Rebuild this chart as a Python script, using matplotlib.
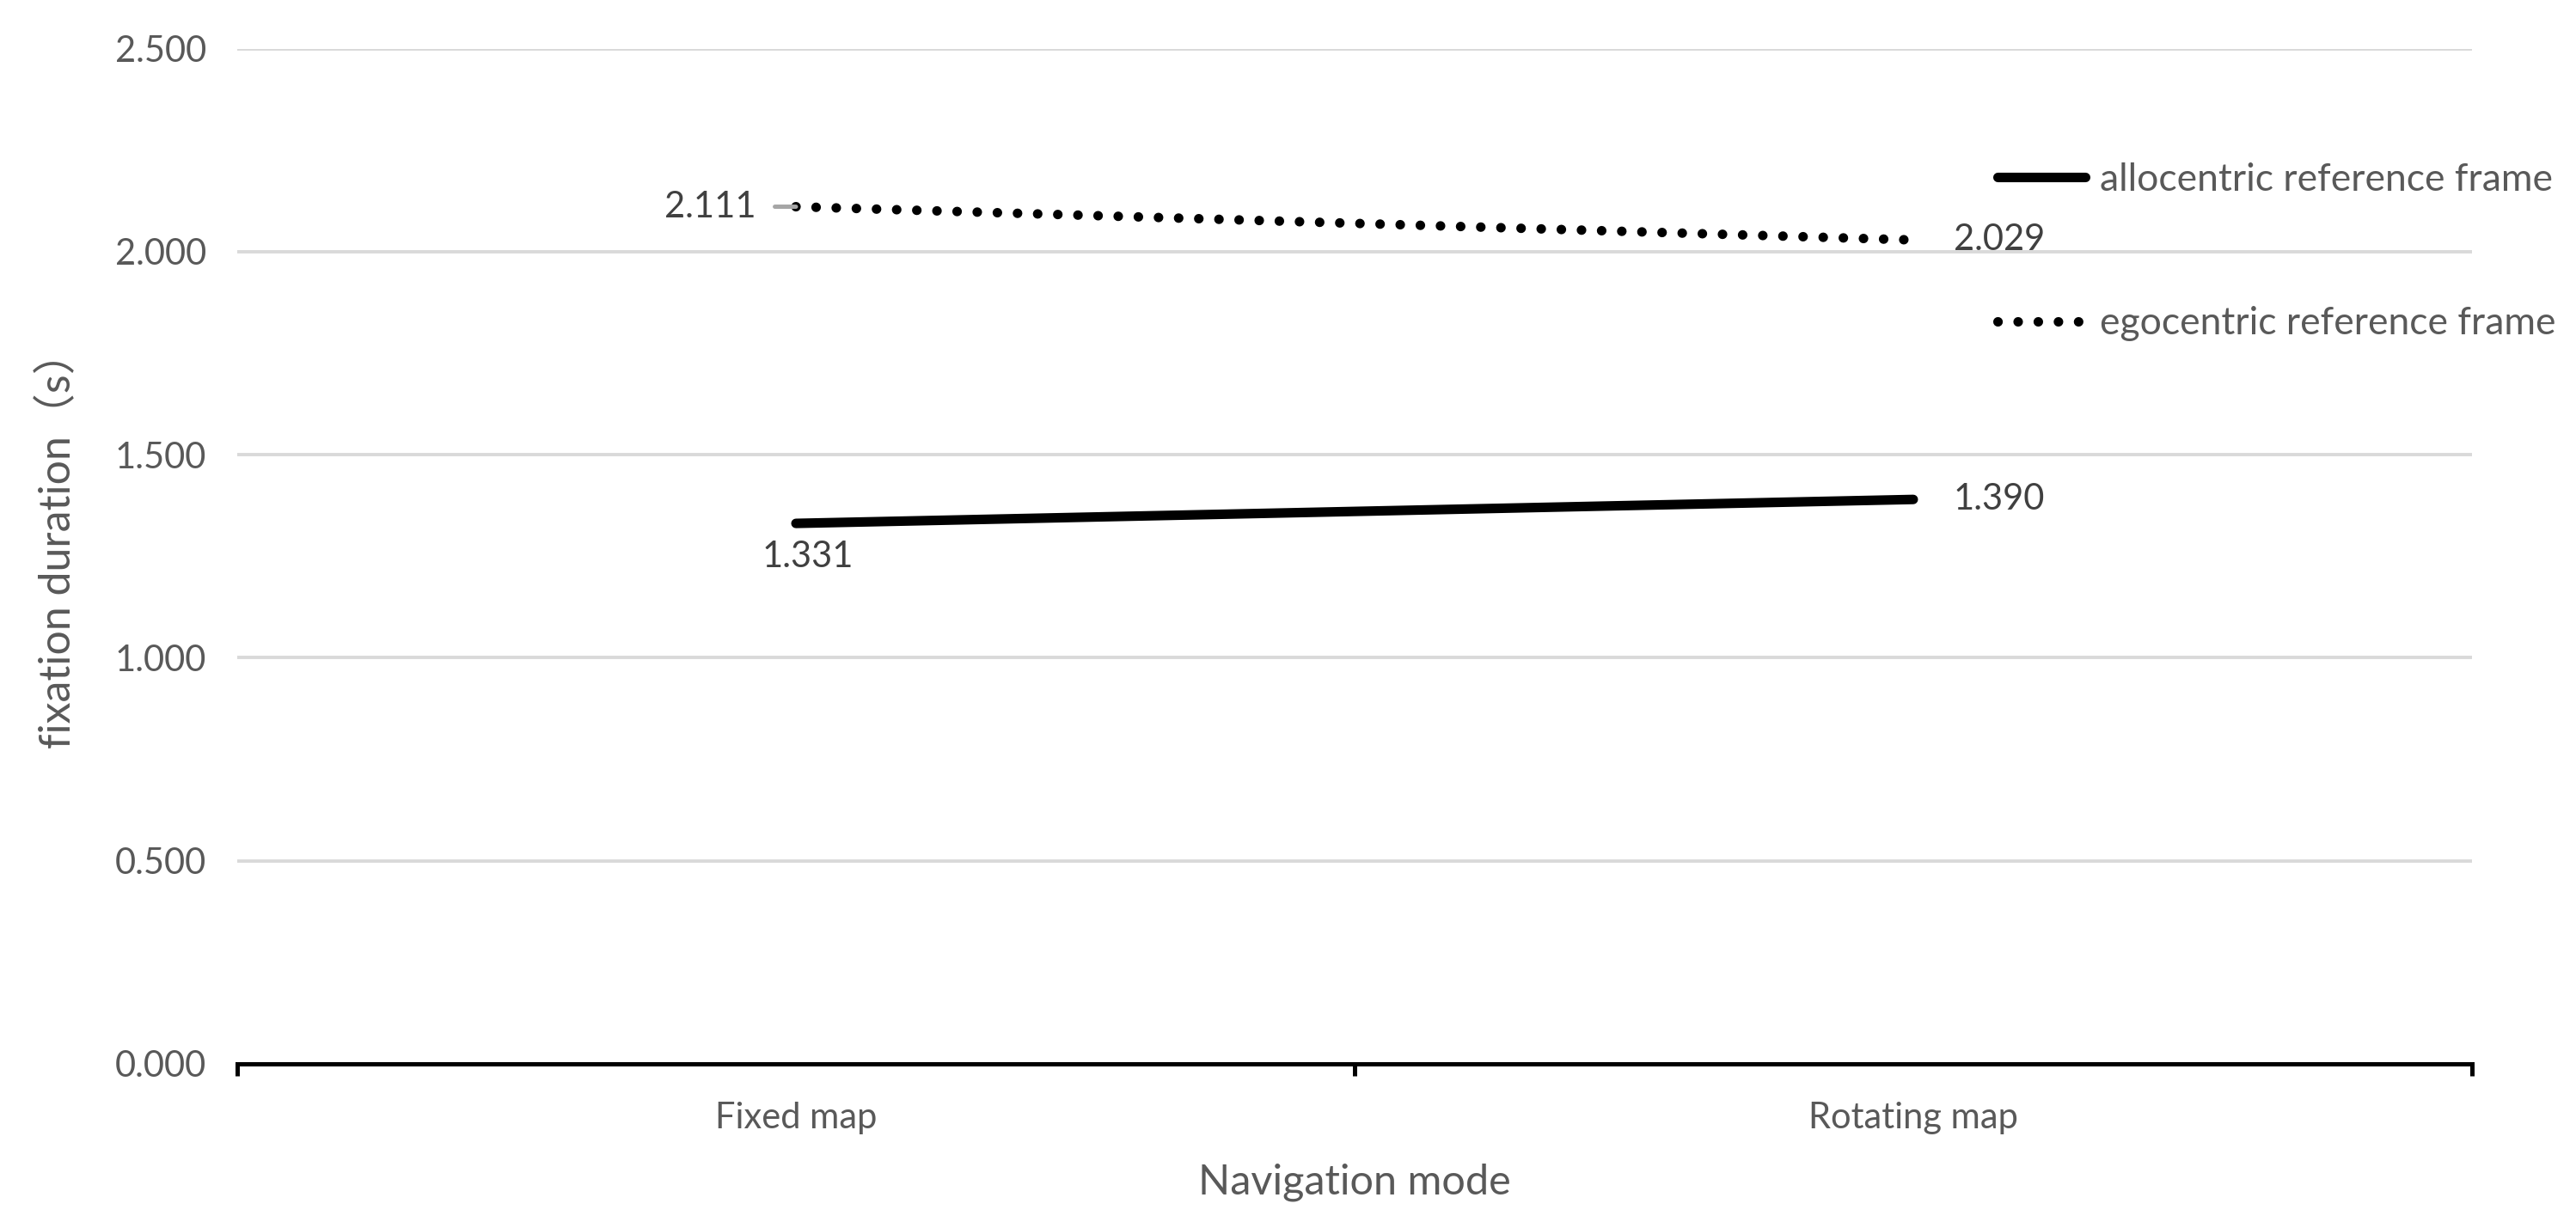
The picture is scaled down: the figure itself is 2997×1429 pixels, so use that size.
import matplotlib
matplotlib.use("Agg")
import matplotlib.pyplot as plt
from matplotlib.lines import Line2D

categories = ["Fixed map", "Rotating map"]
allocentric = [1.331, 1.390]
egocentric = [2.111, 2.029]
series_names = ["allocentric reference frame", "egocentric reference frame"]
yticks = [0.0, 0.5, 1.0, 1.5, 2.0, 2.5]

plt.rcParams['font.family'] = ['Lato', 'Noto Sans CJK SC', 'DejaVu Sans']
TXT = '#595959'
LBL = '#404040'
FS = 15

fig = plt.figure(figsize=(14.985, 7.145), dpi=200)
ax = fig.add_axes([0.0921, 0.1337, 0.8675, 0.8266])

x = [0.5, 1.5]
ax.set_xlim(0, 2)
ax.set_ylim(0, 2.5)

SOLID = dict(color='black', lw=4.0, solid_capstyle='round')
DOT = dict(color='black', lw=4.0, linestyle=(0, (0.01, 2.1)), dash_capstyle='round')

ax.plot(x, allocentric, zorder=3, **SOLID)
ax.plot(x, egocentric, zorder=3, **DOT)

ax.set_yticks(yticks)
ax.set_yticklabels([f"{v:.3f}" for v in yticks])
ax.yaxis.grid(True, color='#d9d9d9', lw=1.4)
ax.set_axisbelow(True)
ax.tick_params(axis='y', length=0, pad=13, labelsize=FS, labelcolor=TXT)

ax.set_xticks([0, 1, 2])
ax.set_xticklabels(["", "", ""])
ax.set_xticks(x, minor=True)
ax.set_xticklabels(categories, minor=True)
ax.tick_params(axis='x', which='major', length=5, width=1.8, color='black', direction='out')
ax.tick_params(axis='x', which='minor', length=0, pad=16, labelsize=FS, labelcolor=TXT)

for s in ['top', 'right', 'left']:
    ax.spines[s].set_visible(False)
ax.spines['bottom'].set_linewidth(1.8)
ax.spines['bottom'].set_color('black')

ax.set_xlabel("Navigation mode", fontsize=17.5, color=TXT, labelpad=12)
ax.set_ylabel("fixation duration（s）", fontsize=18, color=TXT)
ax.yaxis.label.set_va('center')
ax.yaxis.set_label_coords(-0.0804, 0.516)

# data labels
ax.annotate(f"{allocentric[0]:.3f}", (x[0], allocentric[0]), xytext=(5, -14),
            textcoords='offset points', ha='center', va='center', fontsize=FS, color=LBL)
ax.annotate(f"{allocentric[1]:.3f}", (x[1], allocentric[1]), xytext=(36, 0),
            textcoords='offset points', ha='center', va='center', fontsize=FS, color=LBL)
ax.annotate(f"{egocentric[0]:.3f}", (x[0], egocentric[0]), xytext=(-36, 0),
            textcoords='offset points', ha='center', va='center', fontsize=FS, color=LBL,
            arrowprops=dict(arrowstyle='-', color='#a6a6a6', lw=1.8, shrinkA=6, shrinkB=0))
ax.annotate(f"{egocentric[1]:.3f}", (x[1], egocentric[1]), xytext=(36, 0),
            textcoords='offset points', ha='center', va='center', fontsize=FS, color=LBL)

handles = [Line2D([], [], **SOLID), Line2D([], [], **DOT)]
fig.legend(handles, series_names, loc='upper left', bbox_to_anchor=(0.7755, 0.868),
           frameon=False, fontsize=16, labelcolor=TXT, handlelength=2.3,
           handletextpad=0.37, labelspacing=2.85, borderpad=0, borderaxespad=0)

fig.savefig("out.png", dpi=200)
